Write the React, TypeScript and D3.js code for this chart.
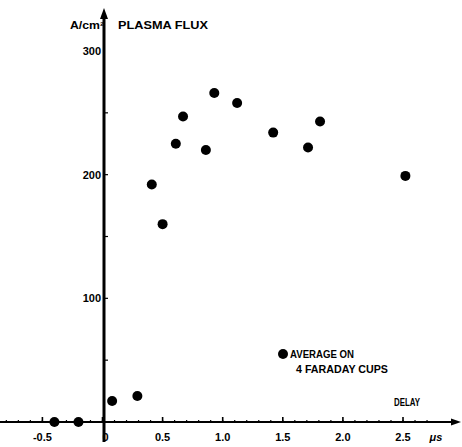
import * as d3 from "d3";
import { useEffect, useRef } from "react";

// delay (µs) vs plasma flux (A/cm²)
const delays = [-0.4, -0.2, 0.08, 0.29, 0.41, 0.5, 0.61, 0.67, 0.86, 0.93, 1.12, 1.42, 1.71, 1.81, 2.52];
const flux = [0, 0, 17, 21, 192, 160, 225, 247, 220, 266, 258, 234, 222, 243, 199];

const xTicks = [-0.5, 0, 0.5, 1.0, 1.5, 2.0, 2.5];
const xTickLabels = ["-0.5", "0", "0.5", "1.0", "1.5", "2.0", "2.5"];
const yTicks = [100, 200, 300];
const yTickLabels = ["100", "200", "300"];
const legendLines = ["AVERAGE ON", "4 FARADAY CUPS"];

const W = 462;
const H = 447;
const FONT = "'Liberation Sans', Arial, sans-serif";

export default function App() {
  const ref = useRef<SVGSVGElement>(null);

  useEffect(() => {
    const svg = d3.select(ref.current);
    svg.selectAll("*").remove();

    const x = d3.scaleLinear().domain([0, 2.5]).range([102.5, 403]);
    const y = d3.scaleLinear().domain([0, 300]).range([422, 51]);
    const x0 = x(0) + 1.5;
    const yBase = y(0);

    svg.append("rect").attr("width", W).attr("height", H).attr("fill", "white");

    const g = svg.append("g").style("font-family", FONT).style("font-weight", "700");

    // x axis with arrow
    g.append("line")
      .attr("x1", 0).attr("x2", W - 6)
      .attr("y1", yBase).attr("y2", yBase)
      .attr("stroke", "black").attr("stroke-width", 2);
    g.append("path")
      .attr("d", `M${W - 1},${yBase} l-10,-3.5 l0,7 z`)
      .attr("fill", "black");

    // y axis with arrow
    g.append("line")
      .attr("x1", x0).attr("x2", x0)
      .attr("y1", yBase + 20).attr("y2", 16)
      .attr("stroke", "black").attr("stroke-width", 3);
    g.append("path")
      .attr("d", `M${x0},8 l-4,11 l8,0 z`)
      .attr("fill", "black");

    // x ticks: major every 0.5, minor every 0.1
    const minorX = d3.range(-0.9, 2.75, 0.1);
    g.selectAll(".xminor").data(minorX).join("line")
      .attr("x1", (d) => x(d)).attr("x2", (d) => x(d))
      .attr("y1", yBase).attr("y2", yBase - 2)
      .attr("stroke", "black").attr("stroke-width", 1.2);
    g.selectAll(".xmajor").data(xTicks).join("line")
      .attr("x1", (d) => x(d)).attr("x2", (d) => x(d))
      .attr("y1", yBase).attr("y2", yBase - 5)
      .attr("stroke", "black").attr("stroke-width", 1.6);
    g.selectAll(".xlab").data(xTicks).join("text")
      .attr("x", (d) => x(d) + (d === 0 ? 3 : 0))
      .attr("y", yBase + 19)
      .attr("text-anchor", "middle")
      .style("font-size", "11px")
      .text((d, i) => xTickLabels[i]);
    g.append("text")
      .attr("x", 436).attr("y", yBase + 19)
      .attr("text-anchor", "middle")
      .style("font-size", "11px").style("font-style", "italic")
      .text("μs");

    // y ticks
    const minorY = d3.range(50, 300, 50);
    g.selectAll(".yminor").data(minorY).join("line")
      .attr("x1", x0).attr("x2", x0 + 4)
      .attr("y1", (d) => y(d)).attr("y2", (d) => y(d))
      .attr("stroke", "black").attr("stroke-width", 1.2);
    g.selectAll(".ylab").data(yTicks).join("text")
      .attr("x", x0 - 3)
      .attr("y", (d) => y(d) + 4)
      .attr("text-anchor", "end")
      .style("font-size", "11px")
      .text((d, i) => yTickLabels[i]);

    // axis titles
    g.append("text")
      .attr("x", 70).attr("y", 29)
      .attr("textLength", 34).attr("lengthAdjust", "spacingAndGlyphs")
      .style("font-size", "10px")
      .text("A/cm²");
    g.append("text")
      .attr("x", 118).attr("y", 29)
      .attr("textLength", 90).attr("lengthAdjust", "spacingAndGlyphs")
      .style("font-size", "10.5px")
      .text("PLASMA FLUX");
    g.append("text")
      .attr("x", 394).attr("y", 406)
      .attr("textLength", 26).attr("lengthAdjust", "spacingAndGlyphs")
      .style("font-size", "10.5px")
      .text("DELAY");

    // data points
    g.selectAll(".pt").data(delays).join("circle")
      .attr("cx", (d) => x(d))
      .attr("cy", (d, i) => y(flux[i]))
      .attr("r", 5)
      .attr("fill", "black");

    // legend
    g.append("circle").attr("cx", 283).attr("cy", 354).attr("r", 5).attr("fill", "black");
    g.append("text")
      .attr("x", 290).attr("y", 358)
      .attr("textLength", 64).attr("lengthAdjust", "spacingAndGlyphs")
      .style("font-size", "10.5px")
      .text(legendLines[0]);
    g.append("text")
      .attr("x", 296).attr("y", 373)
      .attr("textLength", 92).attr("lengthAdjust", "spacingAndGlyphs")
      .style("font-size", "10.5px")
      .text(legendLines[1]);
  }, []);

  return (
    <svg
      ref={ref}
      width={W}
      height={H}
      style={{ position: "absolute", left: 0, top: 0, display: "block" }}
    />
  );
}
